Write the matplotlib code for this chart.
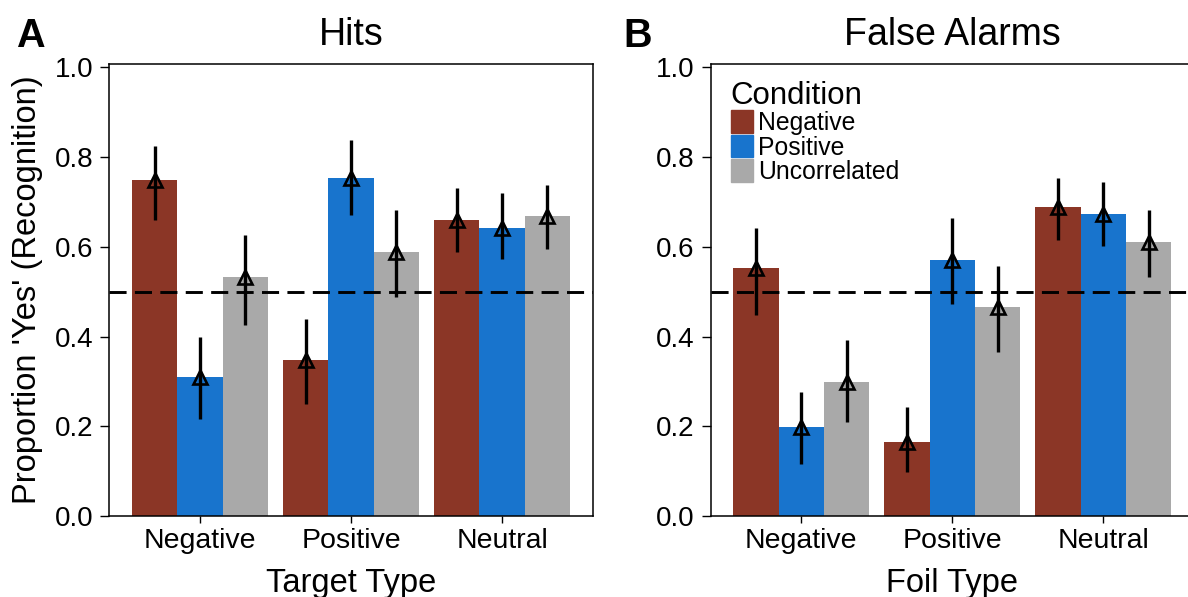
import numpy as np
import matplotlib.pyplot as plt
from matplotlib.patches import Rectangle

plt.rcParams['font.family'] = ['Liberation Sans', 'DejaVu Sans']
plt.rcParams['lines.scale_dashes'] = False

# categories on the x axis, conditions as bar groups
types = ['Negative', 'Positive', 'Neutral']
conditions = ['Negative', 'Positive', 'Uncorrelated']
colors = ['#8B3626', '#1874CD', '#A9A9A9']

# Hits: mean and interval ends, one list per condition (Negative, Positive, Neutral targets)
hits_neg = [0.748, 0.348, 0.660]
hits_pos = [0.310, 0.754, 0.641]
hits_unc = [0.532, 0.588, 0.668]
hits_neg_lo = [0.660, 0.250, 0.588]
hits_neg_hi = [0.825, 0.438, 0.732]
hits_pos_lo = [0.216, 0.671, 0.572]
hits_pos_hi = [0.398, 0.837, 0.721]
hits_unc_lo = [0.426, 0.487, 0.595]
hits_unc_hi = [0.626, 0.681, 0.737]

# False alarms, same layout (Negative, Positive, Neutral foils)
fa_neg = [0.553, 0.165, 0.689]
fa_pos = [0.198, 0.571, 0.672]
fa_unc = [0.298, 0.465, 0.611]
fa_neg_lo = [0.449, 0.099, 0.616]
fa_neg_hi = [0.642, 0.242, 0.754]
fa_pos_lo = [0.115, 0.472, 0.602]
fa_pos_hi = [0.276, 0.664, 0.744]
fa_unc_lo = [0.210, 0.366, 0.533]
fa_unc_hi = [0.393, 0.558, 0.681]

panels = [
    dict(title='Hits', letter='A', xlabel='Target Type',
         means=[hits_neg, hits_pos, hits_unc],
         lo=[hits_neg_lo, hits_pos_lo, hits_unc_lo],
         hi=[hits_neg_hi, hits_pos_hi, hits_unc_hi]),
    dict(title='False Alarms', letter='B', xlabel='Foil Type',
         means=[fa_neg, fa_pos, fa_unc],
         lo=[fa_neg_lo, fa_pos_lo, fa_unc_lo],
         hi=[fa_neg_hi, fa_pos_hi, fa_unc_hi]),
]

W, H = 1188, 597
fig = plt.figure(figsize=(W / 100, H / 100), dpi=100)

ax_left_px = [109.3, 710.7]
ax_w_px, ax_top_px, ax_bot_px = 483.4, 64, 516
bar_w = 0.3
x = np.arange(len(types))

for i, p in enumerate(panels):
    ax = fig.add_axes([ax_left_px[i] / W, 1 - ax_bot_px / H,
                       ax_w_px / W, (ax_bot_px - ax_top_px) / H])
    for k in range(len(conditions)):
        pos = x + (k - 1) * bar_w
        m = np.array(p['means'][k])
        ax.bar(pos, m, width=bar_w, color=colors[k], edgecolor='none', zorder=2)
        ax.vlines(pos, p['lo'][k], p['hi'][k], color='black', lw=2.4, zorder=3)
        ax.plot(pos, m, linestyle='none', marker='^', ms=10, mfc='none',
                mec='black', mew=1.9, zorder=4)
    ax.axhline(0.5, color='black', lw=2.1, dashes=(12.3, 6), zorder=5)

    ax.set_xlim(-0.6, 2.6)
    ax.set_ylim(0, 1.0074)
    ax.set_xticks(x)
    ax.set_xticklabels(types, fontsize=20.5)
    ax.set_yticks(np.arange(0, 1.01, 0.2))
    ax.set_yticklabels([f'{v:.1f}' for v in np.arange(0, 1.01, 0.2)], fontsize=20)
    ax.tick_params(axis='y', length=6.2, width=1, pad=5.5)
    ax.tick_params(axis='x', length=5.3, width=1, pad=3.4)
    for s in ax.spines.values():
        s.set_linewidth(1.1)

    ax.text(0.5, 1.042, p['title'], transform=ax.transAxes, ha='center',
            va='baseline', fontsize=27)
    ax.text(0.5, -(591.7 - ax_bot_px) / (ax_bot_px - ax_top_px), p['xlabel'],
            transform=ax.transAxes, ha='center', va='baseline', fontsize=23.5)
    fig.text([15.7, 623.3][i] / W, 1 - 46.7 / H, p['letter'], fontsize=28.5,
             fontweight='bold', ha='left', va='baseline')

    if i == 1:
        # legend drawn by hand to sit like the original
        ax.text(0.0414, 0.9115, 'Condition', transform=ax.transAxes,
                ha='left', va='baseline', fontsize=22.5)
        for k, (c, col) in enumerate(zip(conditions, colors)):
            top = 0.8982 - k * 0.0547
            ax.add_patch(Rectangle((0.0414, top - 0.0498), 0.047, 0.0498,
                                   transform=ax.transAxes, color=col, zorder=6))
            ax.text(0.0985, 0.854 - k * 0.0547, c, transform=ax.transAxes,
                    ha='left', va='baseline', fontsize=17.8)

fig.text(28 / W, 1 - 290 / H, "Proportion 'Yes' (Recognition)", rotation=90,
         ha='center', va='center', fontsize=23.5)

fig.savefig('out.png', dpi=100)
